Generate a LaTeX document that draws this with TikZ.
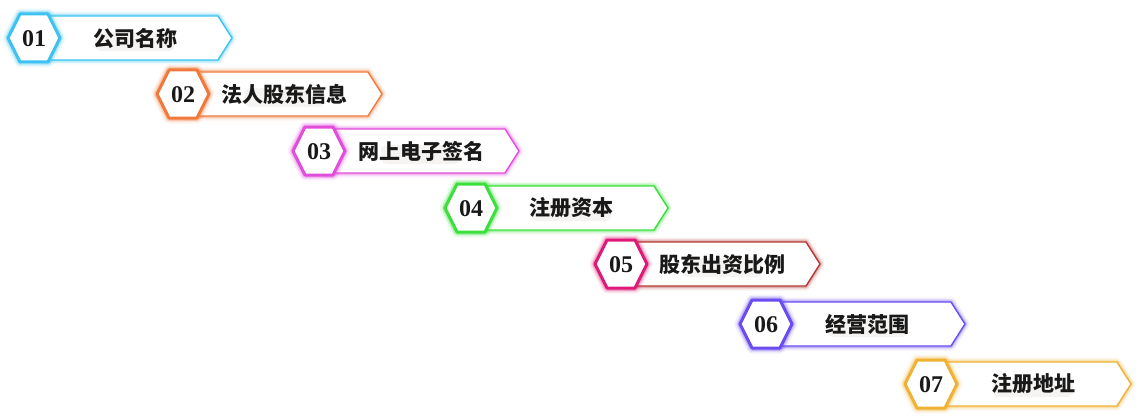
\documentclass[tikz,border=0pt]{standalone}
\usepackage{fontspec}
\newfontfamily\cjk{Noto Sans CJK SC}
\newfontfamily\numfont{Liberation Serif}
\definecolor{cA}{HTML}{3EC2F2}
\definecolor{cB}{HTML}{F07A3C}
\definecolor{cC}{HTML}{E24EDC}
\definecolor{cD}{HTML}{3CDF3C}
\definecolor{cE}{HTML}{E01A78}
\definecolor{cEb}{HTML}{B23A36}
\definecolor{cF}{HTML}{6A4CF0}
\definecolor{cG}{HTML}{F0B232}
\tikzset{
  glowline/.style={draw=#1, line join=round},
  numtext/.style={font=\numfont\bfseries\fontsize{24}{24}\selectfont, text=black!90},
  labtext/.style={font=\cjk\bfseries\fontsize{21}{21}\selectfont, text=black!90},
}
\begin{document}
\begin{tikzpicture}[x=1pt,y=-1pt]
\fill[white] (0,0) rectangle (1140,420);
\useasboundingbox (0,0) rectangle (1140,420);
% left x of hexagon / right tip of banner / centre y / hexagon colour / banner colour / label
\foreach \xl/\tip/\cy/\hc/\bc/\num/\lab [count=\i] in {
  8/232/38/cA/cA/01/公司名称,
  157/382/94/cB/cB/02/法人股东信息,
  293/519/151/cC/cC/03/网上电子签名,
  445/668/208/cD/cD/04/注册资本,
  595/820/264/cE/cEb/05/股东出资比例,
  740/965/324/cF/cF/06/经营范围,
  905/1131/384/cG/cG/07/注册地址}{
  % banner body with pointed right end
  \foreach \w/\o in {9/0.08,6/0.14,3.5/0.25}{
    \draw[glowline=\bc, line width=\w pt, opacity=\o]
      (\xl+30,\cy-22) -- (\tip-14,\cy-22) -- (\tip,\cy) -- (\tip-14,\cy+22) -- (\xl+30,\cy+22);
  }
  \draw[glowline=\bc, line width=1.4pt, fill=white]
    (\xl+30,\cy-22) -- (\tip-14,\cy-22) -- (\tip,\cy) -- (\tip-14,\cy+22) -- (\xl+30,\cy+22) -- cycle;
  % soft shade under the label
  \fill[black!40!brown, opacity=0.06, rounded corners=6pt]
    ({(\xl+52+\tip-14)/2-4-10*1.0-30},\cy-6) rectangle ({(\xl+52+\tip-14)/2-4+40},\cy+13);
  % number hexagon
  \foreach \w/\o in {11/0.08,8/0.14,5.5/0.25}{
    \draw[glowline=\hc, line width=\w pt, opacity=\o]
      (\xl,\cy) -- (\xl+12,\cy-24) -- (\xl+40,\cy-24) -- (\xl+52,\cy) -- (\xl+40,\cy+24) -- (\xl+12,\cy+24) -- cycle;
  }
  \draw[glowline=\hc, line width=3pt, fill=white]
    (\xl,\cy) -- (\xl+12,\cy-24) -- (\xl+40,\cy-24) -- (\xl+52,\cy) -- (\xl+40,\cy+24) -- (\xl+12,\cy+24) -- cycle;
  \node[numtext] (num\i) at (\xl+26,\cy+1) {\num};
  \node[labtext] (lab\i) at ({(\xl+52+\tip-14)/2-4},\cy) {\lab};
}
\end{tikzpicture}
\end{document}
